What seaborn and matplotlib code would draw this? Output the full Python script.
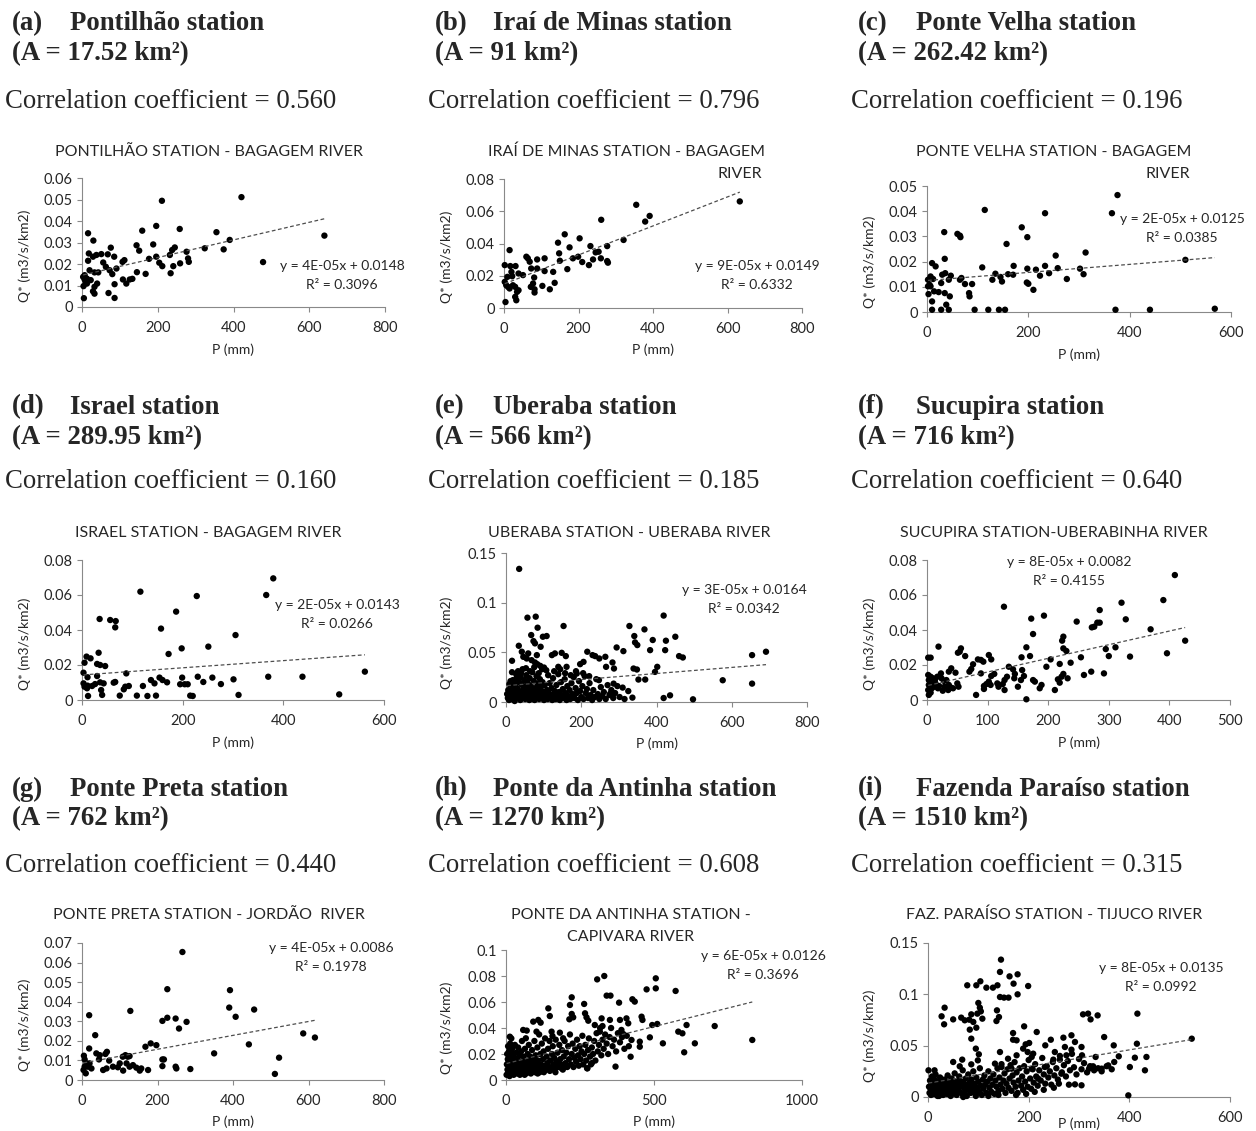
import numpy as np
import pandas as pd
import matplotlib
matplotlib.use("Agg")
import matplotlib.pyplot as plt
import seaborn as sns
from matplotlib.ticker import MultipleLocator, FuncFormatter

# ---- header texts for the nine stations ----
letters = ['a', 'b', 'c', 'd', 'e', 'f', 'g', 'h', 'i']
stations = ['Pontilhão station', 'Iraí de Minas station', 'Ponte Velha station',
            'Israel station', 'Uberaba station', 'Sucupira station',
            'Ponte Preta station', 'Ponte da Antinha station', 'Fazenda Paraíso station']
areas = ['17.52', '91', '262.42', '289.95', '566', '716', '762', '1270', '1510']
corr_coef = ['0.560', '0.796', '0.196', '0.160', '0.185', '0.640', '0.440', '0.608', '0.315']

chart_titles = ['PONTILHÃO STATION - BAGAGEM RIVER',
                'IRAÍ DE MINAS STATION - BAGAGEM\nRIVER',
                'PONTE VELHA STATION - BAGAGEM\nRIVER',
                'ISRAEL STATION - BAGAGEM RIVER',
                'UBERABA STATION - UBERABA RIVER',
                'SUCUPIRA STATION-UBERABINHA RIVER',
                'PONTE PRETA STATION - JORDÃO  RIVER',
                'PONTE DA ANTINHA STATION -\nCAPIVARA RIVER',
                'FAZ. PARAÍSO STATION - TIJUCO RIVER']

eq_texts = ['y = 4E-05x + 0.0148', 'y = 9E-05x + 0.0149', 'y = 2E-05x + 0.0125',
            'y = 2E-05x + 0.0143', 'y = 3E-05x + 0.0164', 'y = 8E-05x + 0.0082',
            'y = 4E-05x + 0.0086', 'y = 6E-05x + 0.0126', 'y = 8E-05x + 0.0135']
r2_texts = ['0.3096', '0.6332', '0.0385', '0.0266', '0.0342', '0.4155', '0.1978', '0.3696', '0.0992']

# trendline intercept / slope (slope as drawn)
intercepts = [0.0148, 0.0149, 0.0125, 0.0143, 0.0164, 0.0082, 0.0086, 0.0126, 0.0135]
slopes = [4.1e-5, 9.0e-5, 1.6e-5, 2.05e-5, 3.07e-5, 7.8e-5, 3.55e-5, 5.7e-5, 8.1e-5]

x_max = [800, 800, 600, 600, 800, 500, 800, 1000, 600]
x_step = [200, 200, 200, 200, 200, 100, 200, 500, 200]
y_max = [0.06, 0.08, 0.05, 0.08, 0.15, 0.08, 0.07, 0.1, 0.15]
y_step = [0.01, 0.02, 0.01, 0.02, 0.05, 0.02, 0.01, 0.02, 0.05]

# ---- P (mm), Q* (m3/s/km2) points ----
pontilhao = [(421, 0.0511), (211, 0.0494), (16, 0.0343), (30, 0.0309), (196, 0.0377), (159, 0.0355),
             (258, 0.0363), (355, 0.0348), (390, 0.0312), (374, 0.0268), (324, 0.0273), (640, 0.0332),
             (478, 0.0209), (144, 0.0287), (151, 0.0262), (188, 0.0291), (245, 0.0277), (238, 0.0265),
             (232, 0.0242), (276, 0.0257), (280, 0.0226), (282, 0.0210), (259, 0.0203), (234, 0.0157),
             (241, 0.0190), (212, 0.0190), (204, 0.0206), (196, 0.0234), (177, 0.0224), (168, 0.0154),
             (145, 0.0162), (133, 0.0131), (126, 0.0128), (117, 0.0109), (108, 0.0128), (112, 0.0218),
             (107, 0.0210), (91, 0.0179), (85, 0.0234), (76, 0.0276), (68, 0.0245), (51, 0.0246),
             (56, 0.0207), (63, 0.0187), (73, 0.0171), (80, 0.0153), (86, 0.0106), (86, 0.0042),
             (70, 0.0065), (38, 0.0242), (29, 0.0234), (18, 0.0249), (16, 0.0215), (20, 0.0171),
             (33, 0.0161), (43, 0.0161), (40, 0.0109), (33, 0.0094), (33, 0.0062), (29, 0.0073),
             (23, 0.0125), (13, 0.0109), (7, 0.0128), (3, 0.0140), (7, 0.0148), (4, 0.0097),
             (10, 0.0117), (5, 0.0041), (13, 0.0132)]

irai = [(633, 0.0661), (355, 0.0640), (391, 0.0571), (379, 0.0536), (261, 0.0547), (321, 0.0422),
        (163, 0.0457), (145, 0.0405), (203, 0.0432), (176, 0.0376), (148, 0.0339), (150, 0.0293),
        (170, 0.0241), (185, 0.0308), (199, 0.0318), (210, 0.0285), (232, 0.0384), (228, 0.0266),
        (239, 0.0301), (246, 0.0345), (254, 0.0349), (260, 0.0308), (277, 0.0384), (277, 0.0291),
        (279, 0.0281), (132, 0.0224), (136, 0.0156), (123, 0.0116), (109, 0.0308), (109, 0.0229),
        (103, 0.0137), (89, 0.0301), (89, 0.0245), (81, 0.0189), (82, 0.0116), (82, 0.0096),
        (73, 0.0245), (72, 0.0131), (78, 0.0152), (69, 0.0287), (60, 0.0318), (64, 0.0308),
        (51, 0.0204), (39, 0.0214), (35, 0.0100), (30, 0.0131), (33, 0.0048), (30, 0.0069),
        (31, 0.0260), (22, 0.0197), (17, 0.0260), (15, 0.0359), (9, 0.0193), (2, 0.0266),
        (2, 0.0162), (6, 0.0141), (4, 0.0037), (11, 0.0131), (15, 0.0121), (24, 0.0141),
        (39, 0.0110), (20, 0.0224)]

ponte_velha = [(376, 0.0464), (365, 0.0392), (233, 0.0392), (114, 0.0405), (187, 0.0336), (198, 0.0297),
               (157, 0.0270), (34, 0.0317), (60, 0.0310), (65, 0.0303), (66, 0.0297), (35, 0.0211),
               (10, 0.0194), (17, 0.0181), (7, 0.0141), (12, 0.0131), (5, 0.0108), (2, 0.0102),
               (3, 0.0071), (10, 0.0042), (10, 0.0009), (28, 0.0009), (43, 0.0009), (38, 0.0029),
               (35, 0.0075), (45, 0.0062), (28, 0.0115), (30, 0.0148), (36, 0.0154), (47, 0.0144),
               (43, 0.0128), (65, 0.0128), (68, 0.0135), (75, 0.0111), (89, 0.0111), (83, 0.0075),
               (84, 0.0062), (94, 0.0009), (121, 0.0009), (142, 0.0009), (154, 0.0009), (109, 0.0177),
               (129, 0.0128), (135, 0.0152), (145, 0.0139), (148, 0.0121), (160, 0.0150), (171, 0.0183),
               (170, 0.0148), (198, 0.0172), (197, 0.0117), (200, 0.0112), (210, 0.0088), (215, 0.0168),
               (223, 0.0144), (233, 0.0183), (241, 0.0154), (254, 0.0224), (258, 0.0174), (276, 0.0131),
               (302, 0.0172), (309, 0.0150), (313, 0.0236), (372, 0.0009), (440, 0.0009), (510, 0.0207),
               (568, 0.0013), (2, 0.0128), (7, 0.0102), (14, 0.0082), (23, 0.0079)]

israel = [(380, 0.0695), (366, 0.0600), (228, 0.0594), (116, 0.0619), (187, 0.0505), (35, 0.0463),
          (56, 0.0457), (67, 0.0451), (66, 0.0415), (157, 0.0408), (305, 0.0371), (198, 0.0295),
          (251, 0.0305), (172, 0.0263), (33, 0.0270), (9, 0.0248), (17, 0.0238), (5, 0.0213),
          (30, 0.0206), (36, 0.0200), (46, 0.0194), (3, 0.0156), (88, 0.0152), (30, 0.0137),
          (11, 0.0130), (3, 0.0095), (5, 0.0076), (10, 0.0067), (11, 0.0082), (20, 0.0080),
          (26, 0.0091), (36, 0.0101), (43, 0.0095), (38, 0.0057), (40, 0.0029), (12, 0.0023),
          (63, 0.0099), (66, 0.0103), (75, 0.0025), (83, 0.0061), (86, 0.0076), (93, 0.0080),
          (109, 0.0025), (121, 0.0080), (130, 0.0023), (137, 0.0114), (144, 0.0095), (147, 0.0025),
          (154, 0.0128), (160, 0.0114), (169, 0.0101), (195, 0.0090), (199, 0.0128), (204, 0.0090),
          (210, 0.0090), (215, 0.0025), (220, 0.0023), (230, 0.0133), (241, 0.0103), (259, 0.0128),
          (276, 0.0091), (301, 0.0118), (311, 0.0029), (370, 0.0133), (438, 0.0133), (511, 0.0032),
          (562, 0.0162)]

uberaba = [(35, 0.134), (57, 0.0849), (79, 0.0859), (84, 0.0748), (153, 0.0765), (67, 0.0674),
           (73, 0.0613), (77, 0.0590), (98, 0.0657), (108, 0.0664), (92, 0.0556), (34, 0.0566),
           (82, 0.0472), (46, 0.0455), (59, 0.0489), (42, 0.0506), (16, 0.0415), (55, 0.0438),
           (68, 0.0421), (77, 0.0398), (83, 0.0381), (91, 0.0364), (101, 0.0347), (122, 0.0472),
           (130, 0.0489), (148, 0.0495), (159, 0.0462), (139, 0.0354), (161, 0.0354), (188, 0.0286),
           (197, 0.0381), (206, 0.0404), (216, 0.0506), (230, 0.0472), (237, 0.0462), (248, 0.0438),
           (264, 0.0455), (266, 0.0354), (283, 0.0398), (287, 0.0337), (294, 0.0549), (312, 0.0512),
           (328, 0.0765), (341, 0.0664), (343, 0.0600), (349, 0.0573), (368, 0.0731), (390, 0.0624),
           (419, 0.0870), (425, 0.0617), (423, 0.0522), (450, 0.0657), (460, 0.0462), (470, 0.0448),
           (383, 0.0522), (396, 0.0303), (402, 0.0354), (339, 0.0337), (348, 0.0327), (352, 0.0226),
           (370, 0.0226), (336, 0.0044), (419, 0.0040), (436, 0.0067), (497, 0.0027), (576, 0.0219),
           (654, 0.0472), (654, 0.0185), (691, 0.0506), (310, 0.0145), (286, 0.0185), (277, 0.0084),
           (3, 0.008), (5, 0.004), (6, 0.012), (8, 0.002), (9, 0.018), (11, 0.006), (12, 0.021),
           (14, 0.010), (15, 0.003), (17, 0.015), (18, 0.022), (20, 0.007), (21, 0.012), (23, 0.001),
           (24, 0.019), (26, 0.009), (27, 0.028), (29, 0.004), (30, 0.014), (32, 0.031), (33, 0.006),
           (35, 0.020), (36, 0.011), (38, 0.002), (39, 0.025), (41, 0.008), (43, 0.017), (44, 0.033),
           (46, 0.005), (47, 0.013), (49, 0.022), (51, 0.003), (52, 0.009), (54, 0.027), (55, 0.015),
           (57, 0.006), (58, 0.019), (60, 0.011), (62, 0.002), (63, 0.024), (65, 0.008), (66, 0.016),
           (68, 0.004), (70, 0.030), (71, 0.012), (73, 0.007), (74, 0.021), (76, 0.002), (78, 0.014),
           (79, 0.009), (81, 0.026), (83, 0.005), (84, 0.018), (86, 0.011), (88, 0.003), (90, 0.023),
           (91, 0.008), (93, 0.015), (95, 0.004), (97, 0.020), (99, 0.010), (101, 0.002), (103, 0.017),
           (105, 0.006), (107, 0.032), (109, 0.012), (111, 0.003), (114, 0.009), (116, 0.019),
           (118, 0.005), (121, 0.014), (123, 0.002), (125, 0.024), (127, 0.008), (130, 0.011),
           (132, 0.003), (134, 0.017), (136, 0.006), (139, 0.028), (141, 0.010), (143, 0.002),
           (146, 0.020), (148, 0.007), (151, 0.013), (153, 0.004), (156, 0.023), (158, 0.009),
           (161, 0.002), (163, 0.016), (166, 0.006), (169, 0.012), (171, 0.003), (174, 0.019),
           (177, 0.008), (180, 0.025), (182, 0.004), (185, 0.014), (188, 0.009), (191, 0.002),
           (194, 0.021), (197, 0.011), (200, 0.005), (203, 0.016), (206, 0.003), (209, 0.026),
           (212, 0.009), (215, 0.013), (218, 0.004), (222, 0.019), (225, 0.007), (229, 0.002),
           (232, 0.012), (236, 0.005), (240, 0.023), (244, 0.008), (248, 0.003), (252, 0.015),
           (256, 0.006), (260, 0.010), (265, 0.003), (270, 0.017), (275, 0.007), (280, 0.012),
           (285, 0.004), (290, 0.009), (296, 0.016), (302, 0.005), (315, 0.003), (325, 0.011),
           (16, 0.030), (28, 0.024), (40, 0.029), (53, 0.034), (64, 0.031), (75, 0.035), (87, 0.029),
           (96, 0.033), (112, 0.027), (128, 0.031), (144, 0.033), (157, 0.029), (172, 0.027),
           (186, 0.031), (205, 0.029), (221, 0.026), (247, 0.022)]

sucupira = [(409, 0.0714), (390, 0.0571), (321, 0.0556), (285, 0.0514), (328, 0.0461), (247, 0.0448),
            (281, 0.0442), (285, 0.0442), (276, 0.0419), (272, 0.0415), (369, 0.0404), (426, 0.0339),
            (396, 0.0267), (311, 0.0301), (295, 0.0291), (300, 0.0251), (335, 0.0248), (292, 0.0152),
            (271, 0.0162), (259, 0.0143), (254, 0.0244), (237, 0.0213), (230, 0.0280), (225, 0.0362),
            (223, 0.0339), (225, 0.0295), (219, 0.0206), (225, 0.0149), (222, 0.0133), (216, 0.0118),
            (219, 0.0099), (232, 0.0124), (211, 0.0057), (204, 0.0232), (197, 0.0190), (193, 0.0482),
            (172, 0.0465), (175, 0.0377), (164, 0.0301), (170, 0.0251), (164, 0.0004), (156, 0.0244),
            (157, 0.0171), (160, 0.0137), (155, 0.0114), (150, 0.0076), (127, 0.0533), (135, 0.0190),
            (132, 0.0133), (128, 0.0114), (125, 0.0091), (128, 0.0057), (118, 0.0076), (116, 0.0095),
            (175, 0.0114), (178, 0.0105), (189, 0.0086), (186, 0.0067), (144, 0.0124), (145, 0.0149),
            (142, 0.0175), (111, 0.0149), (106, 0.0137), (102, 0.0257), (106, 0.0232), (102, 0.0105),
            (98, 0.0091), (105, 0.0086), (94, 0.0080), (89, 0.0229), (93, 0.0219), (84, 0.0232),
            (81, 0.0029), (89, 0.0152), (94, 0.0063), (76, 0.0204), (73, 0.0177), (70, 0.0162),
            (63, 0.0251), (54, 0.0276), (56, 0.0295), (51, 0.0270), (50, 0.0095), (52, 0.0076),
            (47, 0.0156), (40, 0.0181), (36, 0.0162), (36, 0.0086), (29, 0.0076), (28, 0.0109),
            (19, 0.0305), (23, 0.0152), (20, 0.0080), (14, 0.0095), (10, 0.0124), (8, 0.0067),
            (6, 0.0242), (2, 0.0242), (2, 0.0143), (3, 0.0114), (3, 0.0086), (2, 0.0057),
            (3, 0.0029), (6, 0.0133), (8, 0.0095), (13, 0.0114), (17, 0.0133), (24, 0.0124),
            (32, 0.0114), (35, 0.0057), (39, 0.0072), (43, 0.0067), (12, 0.0076), (6, 0.0042),
            (18, 0.0067), (26, 0.0053)]

ponte_preta = [(266, 0.0654), (226, 0.0464), (392, 0.0459), (390, 0.0370), (456, 0.0360), (407, 0.0323),
               (128, 0.0353), (19, 0.0331), (226, 0.0318), (248, 0.0314), (213, 0.0302), (277, 0.0297),
               (257, 0.0263), (35, 0.0229), (586, 0.0238), (617, 0.0217), (442, 0.0182), (182, 0.0187),
               (197, 0.0178), (168, 0.0170), (19, 0.0161), (350, 0.0136), (522, 0.0114), (511, 0.0031),
               (38, 0.0136), (47, 0.0127), (62, 0.0133), (66, 0.0144), (5, 0.0124), (7, 0.0105),
               (12, 0.0085), (7, 0.0068), (4, 0.0051), (10, 0.0034), (16, 0.0068), (25, 0.0059),
               (20, 0.0085), (45, 0.0105), (72, 0.0099), (56, 0.0051), (65, 0.0059), (82, 0.0068),
               (95, 0.0065), (100, 0.0085), (108, 0.0119), (115, 0.0127), (121, 0.0119), (126, 0.0122),
               (118, 0.0085), (126, 0.0068), (109, 0.0048), (135, 0.0076), (144, 0.0063), (153, 0.0048),
               (157, 0.0059), (175, 0.0051), (213, 0.0105), (217, 0.0105), (213, 0.0071), (248, 0.0068),
               (250, 0.0059), (287, 0.0056)]

antinha = [(308, 0.0774), (332, 0.0800), (340, 0.0649), (353, 0.0649), (382, 0.0595), (427, 0.0621),
           (435, 0.0603), (475, 0.0697), (506, 0.0782), (506, 0.0705), (573, 0.0685), (222, 0.0636),
           (216, 0.0577), (264, 0.0585), (143, 0.0551), (154, 0.0372), (222, 0.0508), (227, 0.0482),
           (214, 0.0467), (267, 0.0513), (272, 0.0482), (278, 0.0456), (300, 0.0423), (323, 0.0474),
           (326, 0.0415), (317, 0.0372), (351, 0.0462), (385, 0.0462), (407, 0.0474), (413, 0.0436),
           (458, 0.0487), (461, 0.0462), (494, 0.0423), (511, 0.0431), (390, 0.0385), (396, 0.0354),
           (424, 0.0308), (452, 0.0295), (486, 0.0328), (530, 0.0282), (582, 0.0372), (596, 0.0359),
           (610, 0.0423), (602, 0.0213), (638, 0.0282), (705, 0.0415), (832, 0.0308), (370, 0.0103),
           (421, 0.0179), (452, 0.0256), (92, 0.0449), (109, 0.0462), (117, 0.0441), (103, 0.0372),
           (58, 0.0385), (67, 0.0321), (13, 0.0333), (148, 0.0492), (157, 0.0338), (182, 0.0364),
           (193, 0.0321),
           (2, 0.004), (3, 0.012), (4, 0.020), (5, 0.008), (6, 0.016), (7, 0.026), (8, 0.006),
           (9, 0.014), (10, 0.022), (11, 0.010), (12, 0.003), (13, 0.018), (14, 0.028), (15, 0.007),
           (16, 0.012), (18, 0.032), (19, 0.005), (20, 0.016), (21, 0.024), (22, 0.009), (24, 0.013),
           (25, 0.020), (26, 0.004), (28, 0.011), (29, 0.017), (30, 0.027), (32, 0.007), (33, 0.014),
           (35, 0.021), (36, 0.010), (38, 0.005), (39, 0.016), (41, 0.025), (42, 0.008), (44, 0.012),
           (46, 0.019), (47, 0.004), (49, 0.014), (51, 0.022), (52, 0.009), (54, 0.030), (56, 0.006),
           (57, 0.013), (59, 0.018), (61, 0.010), (63, 0.004), (64, 0.024), (66, 0.015), (68, 0.008),
           (70, 0.038), (71, 0.012), (73, 0.020), (75, 0.006), (77, 0.027), (78, 0.014), (80, 0.009),
           (82, 0.018), (84, 0.005), (86, 0.012), (88, 0.023), (90, 0.008), (92, 0.016), (94, 0.011),
           (96, 0.030), (98, 0.006), (100, 0.019), (102, 0.013), (104, 0.008), (106, 0.025),
           (108, 0.015), (110, 0.010), (112, 0.035), (114, 0.006), (116, 0.020), (118, 0.012),
           (121, 0.028), (123, 0.009), (125, 0.016), (127, 0.022), (130, 0.011), (132, 0.032),
           (135, 0.008), (137, 0.018), (140, 0.013), (142, 0.024), (145, 0.010), (147, 0.030),
           (150, 0.015), (153, 0.008), (155, 0.020), (158, 0.026), (160, 0.012), (163, 0.017),
           (166, 0.009), (168, 0.031), (171, 0.014), (174, 0.021), (177, 0.010), (180, 0.027),
           (183, 0.016), (186, 0.012), (189, 0.023), (192, 0.008), (195, 0.018), (198, 0.030),
           (201, 0.013), (204, 0.021), (207, 0.010), (210, 0.026), (213, 0.016), (216, 0.035),
           (219, 0.012), (222, 0.020), (225, 0.028), (228, 0.010), (231, 0.017), (234, 0.024),
           (237, 0.014), (240, 0.031), (243, 0.019), (246, 0.011), (249, 0.026), (252, 0.016),
           (255, 0.022), (258, 0.034), (261, 0.012), (264, 0.020), (268, 0.027), (271, 0.015),
           (274, 0.009), (277, 0.023), (280, 0.032), (284, 0.018), (287, 0.012), (290, 0.025),
           (294, 0.020), (298, 0.030), (302, 0.015), (306, 0.036), (310, 0.022), (314, 0.027),
           (318, 0.040), (322, 0.019), (326, 0.031), (330, 0.024), (335, 0.035), (340, 0.028),
           (345, 0.020), (350, 0.033), (355, 0.040), (360, 0.026), (365, 0.031), (372, 0.022),
           (378, 0.036), (385, 0.029), (392, 0.033), (400, 0.024), (408, 0.034), (415, 0.026),
           (17, 0.009), (27, 0.006), (37, 0.013), (48, 0.007), (58, 0.011), (67, 0.005), (76, 0.010),
           (87, 0.006), (97, 0.012), (107, 0.005), (117, 0.009), (128, 0.006), (138, 0.011),
           (148, 0.007), (157, 0.010), (167, 0.006), (178, 0.011), (188, 0.009), (197, 0.010),
           (275, 0.009), (290, 0.013)]

paraiso = [(145, 0.1338), (143, 0.1218), (162, 0.1175), (178, 0.1195), (170, 0.1104), (104, 0.1127),
           (96, 0.1088), (116, 0.1065), (129, 0.1065), (138, 0.1088), (199, 0.1081), (143, 0.0974),
           (151, 0.0968), (160, 0.0968), (178, 0.1000), (100, 0.0916), (103, 0.0870), (105, 0.0834),
           (33, 0.0870), (27, 0.0786), (32, 0.0708), (50, 0.0756), (66, 0.0773), (73, 0.0747),
           (82, 0.0753), (78, 0.1088), (86, 0.0805), (90, 0.0731), (98, 0.0812), (108, 0.0763),
           (137, 0.0844), (141, 0.0779), (136, 0.0740), (83, 0.0656), (96, 0.0675), (86, 0.0568),
           (95, 0.0471), (101, 0.0416), (191, 0.0688), (216, 0.0633), (169, 0.0623), (169, 0.0558),
           (176, 0.0552), (194, 0.0513), (201, 0.0526), (198, 0.0438), (189, 0.0471), (209, 0.0422),
           (308, 0.0805), (318, 0.0812), (323, 0.0756), (337, 0.0795), (416, 0.0812), (244, 0.0558),
           (269, 0.0578), (285, 0.0601), (292, 0.0536), (350, 0.0584), (369, 0.0503), (415, 0.0519),
           (411, 0.0383), (434, 0.0390), (431, 0.0260), (401, 0.0292), (379, 0.0396), (370, 0.0341),
           (524, 0.0568), (398, 0.0016), (333, 0.0390), (320, 0.0276), (285, 0.0461), (272, 0.0487),
           (252, 0.0438), (233, 0.0503), (305, 0.0487), (306, 0.0406), (292, 0.0123), (305, 0.0114),
           (232, 0.0292), (219, 0.0179), (265, 0.0227), (206, 0.0390), (176, 0.0406), (143, 0.0438),
           (50, 0.0341), (68, 0.0364), (63, 0.0299), (13, 0.0260), (86, 0.0318), (99, 0.0357),
           (133, 0.0325), (146, 0.0292), (159, 0.0373), (166, 0.0276), (206, 0.0276), (249, 0.0364),
           (262, 0.0364), (275, 0.0406), (328, 0.0299), (345, 0.0276), (358, 0.0308),
           (1, 0.026), (2, 0.010), (3, 0.004), (4, 0.016), (5, 0.008), (6, 0.002), (7, 0.013),
           (8, 0.020), (9, 0.006), (10, 0.011), (12, 0.003), (13, 0.017), (14, 0.008), (15, 0.022),
           (17, 0.005), (18, 0.012), (19, 0.001), (20, 0.015), (22, 0.009), (23, 0.004), (24, 0.019),
           (26, 0.011), (27, 0.006), (29, 0.014), (30, 0.002), (32, 0.010), (33, 0.017), (35, 0.007),
           (36, 0.013), (38, 0.003), (39, 0.021), (41, 0.009), (42, 0.015), (44, 0.005), (45, 0.011),
           (47, 0.018), (48, 0.003), (50, 0.008), (51, 0.014), (53, 0.023), (54, 0.006), (56, 0.012),
           (57, 0.002), (59, 0.016), (60, 0.009), (62, 0.020), (63, 0.005), (65, 0.011), (66, 0.015),
           (68, 0.003), (69, 0.026), (71, 0.009), (72, 0.013), (74, 0.006), (75, 0.018), (77, 0.001),
           (78, 0.011), (80, 0.022), (81, 0.007), (83, 0.014), (85, 0.004), (86, 0.017), (88, 0.010),
           (90, 0.025), (91, 0.006), (93, 0.013), (95, 0.003), (96, 0.019), (98, 0.009), (100, 0.015),
           (102, 0.005), (103, 0.028), (105, 0.011), (107, 0.002), (109, 0.017), (110, 0.008),
           (112, 0.021), (114, 0.012), (116, 0.004), (118, 0.015), (120, 0.025), (122, 0.009),
           (124, 0.018), (126, 0.005), (128, 0.012), (130, 0.022), (132, 0.003), (134, 0.016),
           (136, 0.010), (138, 0.028), (140, 0.006), (142, 0.019), (144, 0.012), (146, 0.032),
           (148, 0.008), (150, 0.016), (152, 0.023), (154, 0.004), (156, 0.013), (158, 0.027),
           (160, 0.009), (162, 0.018), (164, 0.031), (166, 0.006), (168, 0.021), (170, 0.014),
           (172, 0.034), (174, 0.010), (176, 0.024), (178, 0.004), (180, 0.016), (182, 0.028),
           (185, 0.011), (187, 0.020), (189, 0.007), (191, 0.030), (193, 0.015), (196, 0.025),
           (198, 0.010), (200, 0.036), (203, 0.018), (205, 0.008), (208, 0.027), (210, 0.014),
           (213, 0.032), (215, 0.020), (218, 0.011), (221, 0.026), (224, 0.016), (227, 0.038),
           (230, 0.022), (233, 0.013), (236, 0.030), (239, 0.019), (242, 0.025), (245, 0.012),
           (248, 0.034), (251, 0.021), (255, 0.028), (258, 0.017), (262, 0.040), (266, 0.024),
           (270, 0.031), (274, 0.020), (278, 0.035), (282, 0.026), (286, 0.042), (290, 0.029),
           (295, 0.022), (300, 0.037), (305, 0.027), (310, 0.033), (316, 0.024), (322, 0.030),
           (330, 0.026), (338, 0.028), (345, 0.025), (355, 0.030), (365, 0.027),
           (22, 0.001), (45, 0.001), (70, 0.000), (95, 0.001), (120, 0.001), (140, 0.002),
           (175, 0.002), (195, 0.003), (212, 0.005), (230, 0.007), (250, 0.009), (260, 0.013),
           (280, 0.012)]

panel_points = [pontilhao, irai, ponte_velha, israel, uberaba, sucupira, ponte_preta, antinha, paraiso]

# ---- layout (pixels in the 1256 x 1131 canvas) ----
W, H = 1256, 1131
# plot area: left, top, right, bottom
rects = [(82, 178, 385, 307), (504, 179, 802, 308), (927, 186, 1231, 312),
         (82, 560, 384, 700), (506, 553, 807, 702), (927, 560, 1230, 700),
         (82, 943, 384, 1080), (506, 950, 802, 1080), (928, 943, 1230, 1097)]
col_x = [12, 435, 858]
row_y = [(24, 54, 101), (407, 438, 482), (789, 819, 865)]
# first title line centre, second line anchor x and alignment
title_pos = [(209, 152, None, None), (626, 152, 762, 'right'), (1054, 152, 1190, 'right'),
             (208, 533, None, None), (629, 533, None, None), (1054, 533, None, None),
             (209, 915, None, None), (631, 915, 631, 'center'), (1054, 915, None, None)]
eq_pos = [(342, 266), (757, 266), (1182, 219), (337, 605), (744, 590), (1069, 562),
          (331, 948), (763, 956), (1161, 968)]
xlabel_y = [343, 343, 348, 736, 737, 736, 1115, 1115, 1117]
ylabel_x = [31, 453, 876, 31, 453, 876, 31, 453, 876]

sns.set_theme(style="white")
plt.rcParams['font.family'] = ['Lato', 'DejaVu Sans']

fig = plt.figure(figsize=(W / 100, H / 100), dpi=100)

def fx(px):
    return px / W

def fy(py):
    return 1 - py / H

serif = ['Liberation Serif', 'DejaVu Serif']
axis_grey = '#898989'
txt_col = '#262626'

for i in range(9):
    l, t, r, b = rects[i]
    ax = fig.add_axes([fx(l), fy(b), (r - l) / W, (b - t) / H])
    df = pd.DataFrame(panel_points[i], columns=['P', 'Q'])
    sns.scatterplot(data=df, x='P', y='Q', ax=ax, color='black', s=21,
                    edgecolor='none', linewidth=0, clip_on=False, zorder=3)
    xs = np.array([df['P'].min(), df['P'].max()])
    ax.plot(xs, intercepts[i] + slopes[i] * xs, color='#4d4d4d', lw=0.9,
            linestyle=(0, (3, 2)), zorder=4)

    ax.set_xlim(0, x_max[i])
    ax.set_ylim(0, y_max[i])
    ax.xaxis.set_major_locator(MultipleLocator(x_step[i]))
    ax.yaxis.set_major_locator(MultipleLocator(y_step[i]))
    ax.xaxis.set_major_formatter(FuncFormatter(lambda v, p: f"{round(v, 4):g}"))
    ax.yaxis.set_major_formatter(FuncFormatter(lambda v, p: f"{round(v, 4):g}"))
    for s in ['top', 'right']:
        ax.spines[s].set_visible(False)
    for s in ['left', 'bottom']:
        ax.spines[s].set_color(axis_grey)
        ax.spines[s].set_linewidth(0.8)
    ax.tick_params(axis='both', which='major', bottom=True, left=True, direction='out',
                   length=3.5, width=0.8, color=axis_grey, labelsize=10.5, labelcolor=txt_col)
    ax.tick_params(axis='y', pad=3)
    ax.tick_params(axis='x', pad=6.5)

    ax.set_xlabel('P (mm)', fontsize=10, color=txt_col)
    ax.set_ylabel('Q* (m3/s/km2)', fontsize=10, color=txt_col)
    ax.xaxis.set_label_coords(0.5, -(xlabel_y[i] - b) / (b - t))
    ax.yaxis.set_label_coords(-(l - ylabel_x[i]) / (r - l), 0.4)

    # chart title
    tx, ty, ax2, al2 = title_pos[i]
    lines = chart_titles[i].split('\n')
    fig.text(fx(tx), fy(ty), lines[0], ha='center', va='center', fontsize=11.5, color=txt_col)
    if len(lines) > 1:
        fig.text(fx(ax2), fy(ty + 22), lines[1], ha=al2, va='center',
                 fontsize=11.5, color=txt_col)

    # trendline equation
    ex, ey = eq_pos[i]
    fig.text(fx(ex), fy(ey), eq_texts[i], ha='center', va='center', fontsize=10, color=txt_col)
    fig.text(fx(ex), fy(ey + 19), 'R² = ' + r2_texts[i], ha='center', va='center',
             fontsize=10, color=txt_col)

    # headers above each chart
    cx = col_x[i % 3]
    y1, y2, y3 = row_y[i // 3]
    fig.text(fx(cx), fy(y1), f'({letters[i]})', ha='left', va='center', fontsize=19.3,
             fontweight='bold', family=serif)
    fig.text(fx(cx + 58), fy(y1), stations[i], ha='left', va='center', fontsize=19.3,
             fontweight='bold', family=serif)
    fig.text(fx(cx), fy(y2), f'(A = {areas[i]} km²)', ha='left', va='center', fontsize=19.3,
             fontweight='bold', family=serif)
    fig.text(fx(cx - 7), fy(y3), f'Correlation coefficient = {corr_coef[i]}', ha='left',
             va='center', fontsize=19.3, family=serif)

fig.savefig('out.png', dpi=100)
